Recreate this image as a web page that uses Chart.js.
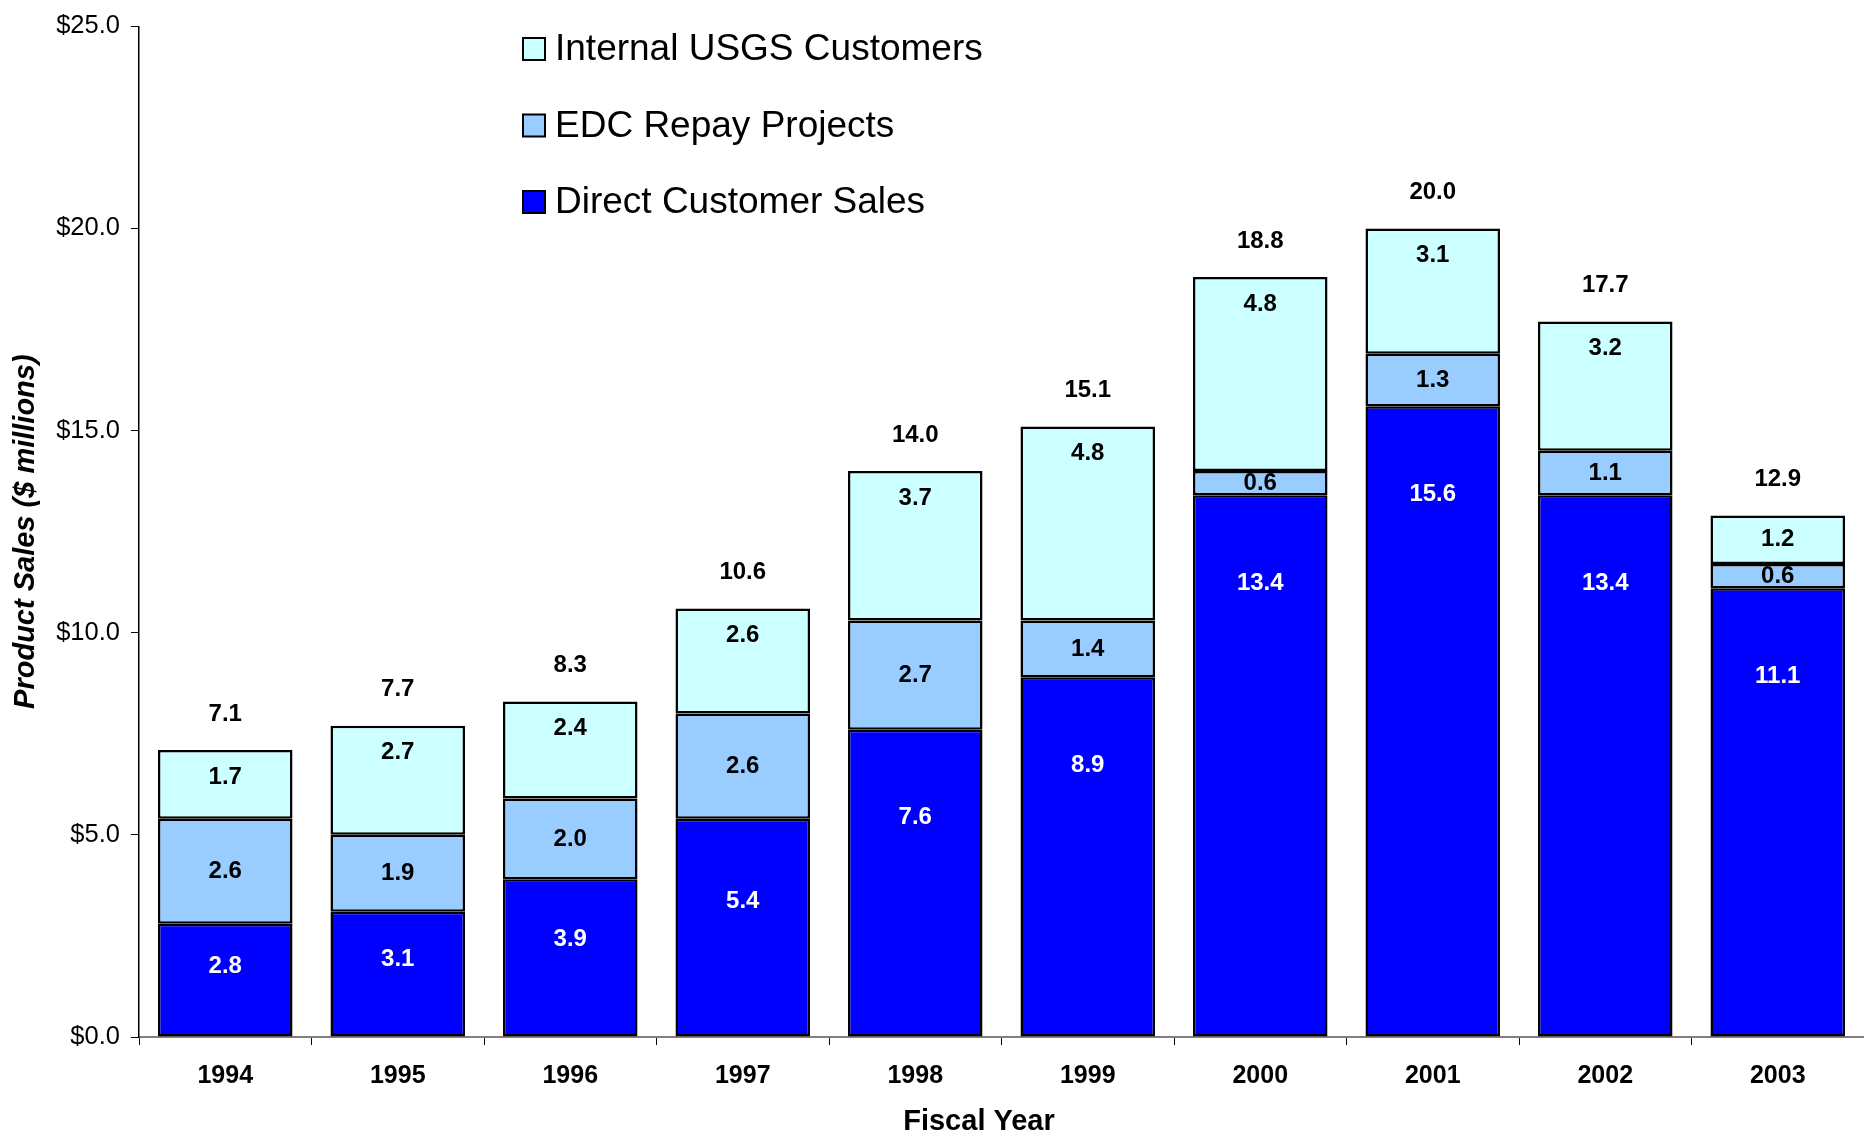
<!DOCTYPE html>
<html>
<head>
<meta charset="utf-8">
<script src="https://cdn.jsdelivr.net/npm/chart.js@4.4.0/dist/chart.umd.min.js"></script>
<style>
  html, body { margin: 0; padding: 0; background: #fff; }
  #wrap { width: 1864px; height: 1136px; }
</style>
</head>
<body>
<div id="wrap"><canvas id="myChart" width="1864" height="1136"></canvas></div>
<script>
const years = ['1994', '1995', '1996', '1997', '1998', '1999', '2000', '2001', '2002', '2003'];
const directSales = [2.8, 3.1, 3.9, 5.4, 7.6, 8.9, 13.4, 15.6, 13.4, 11.1];
const edcRepay = [2.6, 1.9, 2.0, 2.6, 2.7, 1.4, 0.6, 1.3, 1.1, 0.6];
const internalUsgs = [1.7, 2.7, 2.4, 2.6, 3.7, 4.8, 4.8, 3.1, 3.2, 1.2];
const yTickValues = [0, 5, 10, 15, 20, 25];

const FONT = '"Liberation Sans", Arial, sans-serif';

// legend drawn top-left inside the plot, reverse order like the original
const legendBoxes = {
  id: 'legendBoxes',
  afterDraw(chart) {
    const { ctx } = chart;
    const items = chart.data.datasets.slice().reverse();
    ctx.save();
    items.forEach((ds, i) => {
      const y = 49 + i * 76.5;
      ctx.fillStyle = ds.backgroundColor;
      ctx.fillRect(523, y - 11, 22, 22);
      ctx.lineWidth = 2;
      ctx.strokeStyle = '#000';
      ctx.strokeRect(523, y - 11, 22, 22);
      ctx.fillStyle = '#000';
      ctx.font = '37px ' + FONT;
      ctx.textBaseline = 'middle';
      ctx.textAlign = 'left';
      ctx.fillText(ds.label, 555, y + 1);
    });
    // x axis title sits a little left of the plot centre in the original
    ctx.font = 'bold 29px ' + FONT;
    ctx.textAlign = 'center';
    ctx.fillText('Fiscal Year', 979, 1122);
    ctx.restore();
  },
};

// segment values + totals above the stacks
const barLabels = {
  id: 'barLabels',
  afterDatasetsDraw(chart) {
    const { ctx } = chart;
    const datasets = chart.data.datasets;
    ctx.save();
    ctx.font = 'bold 24px ' + FONT;
    ctx.textAlign = 'center';
    ctx.textBaseline = 'middle';
    datasets.forEach((ds, di) => {
      chart.getDatasetMeta(di).data.forEach((bar, i) => {
        const h = bar.base - bar.y;
        let off;
        if (di === 0) off = Math.min(h * 0.38, 88);
        else if (di === 1) off = h / 2;
        else off = Math.min(h / 2, 27);
        ctx.fillStyle = di === 0 ? '#fff' : '#000';
        ctx.fillText(ds.data[i].toFixed(1), bar.x, bar.y + off);
      });
    });
    const lastMeta = chart.getDatasetMeta(datasets.length - 1);
    lastMeta.data.forEach((bar, i) => {
      const total = datasets.reduce((s, ds) => s + ds.data[i], 0);
      ctx.fillStyle = '#000';
      ctx.fillText(total.toFixed(1), bar.x, bar.y - 36);
    });
    ctx.restore();
  },
};

const data = {
  labels: years,
  datasets: [
    { label: 'Direct Customer Sales', data: directSales, backgroundColor: '#0000FF' },
    { label: 'EDC Repay Projects', data: edcRepay, backgroundColor: '#99CCFF' },
    { label: 'Internal USGS Customers', data: internalUsgs, backgroundColor: '#CCFFFF' },
  ].map((ds) => ({
    ...ds,
    borderColor: '#000',
    borderWidth: 2.5,
    borderSkipped: false,
    barPercentage: 0.78,
    categoryPercentage: 1.0,
  })),
};

const config = {
  type: 'bar',
  data: data,
  options: {
    responsive: false,
    animation: false,
    devicePixelRatio: 1,
    layout: { padding: { top: 24, right: 0, left: 0, bottom: 0 } },
    plugins: {
      legend: { display: false },
      tooltip: { enabled: false },
    },
    scales: {
      x: {
        stacked: true,
        grid: { drawOnChartArea: false, drawTicks: true, tickLength: 8, color: '#000', offset: true },
        border: { color: '#808080', width: 2 },
        ticks: { color: '#000', font: { family: FONT, size: 25, weight: 'bold' }, padding: 16 },
        title: { display: false },
        afterFit(scale) { scale.height = 99; },
      },
      y: {
        stacked: true,
        min: 0,
        max: 25,
        afterBuildTicks(scale) { scale.ticks = yTickValues.map((v) => ({ value: v })); },
        ticks: {
          callback: (v) => '$' + Number(v).toFixed(1),
          color: '#000',
          font: { family: FONT, size: 25.5 },
          padding: 11,
        },
        grid: { drawOnChartArea: false, tickLength: 8, color: '#000' },
        border: { color: '#000', width: 1.5 },
        title: {
          display: true,
          text: 'Product Sales ($ millions)',
          color: '#000',
          font: { family: FONT, size: 29, weight: 'bold', style: 'italic' },
          padding: { top: 9, bottom: 0 },
        },
        afterFit(scale) { scale.width = 139; },
      },
    },
  },
  plugins: [barLabels, legendBoxes],
};

const myChart = new Chart(document.getElementById('myChart'), config);
</script>
</body>
</html>
